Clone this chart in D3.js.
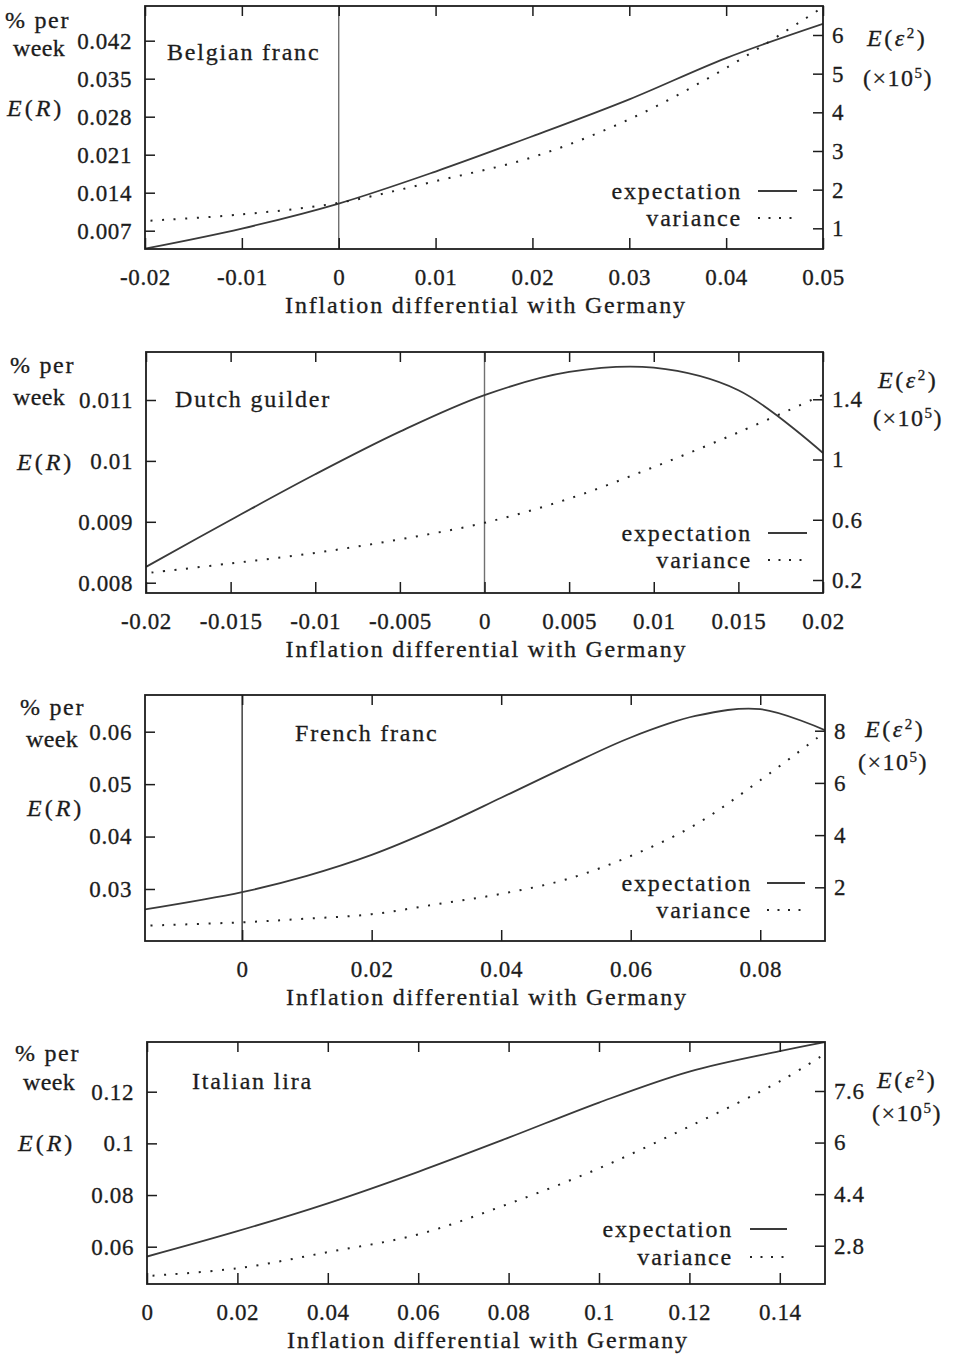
<!DOCTYPE html>
<html>
<head>
<meta charset="utf-8">
<script src="https://cdn.jsdelivr.net/npm/d3@7"></script>
<style>
  html, body { margin: 0; padding: 0; background: #fff; }
  svg text { font-family: "Liberation Serif", "Times New Roman", serif; fill: #1c1c1c; stroke: #1c1c1c; stroke-width: 0.3px; }
</style>
</head>
<body>
<svg id="chart" width="954" height="1354"></svg>
<script>
// ---- Belgian franc ----
const belgianX = [-0.02, -0.01, 0, 0.01, 0.02, 0.03, 0.04, 0.05];
const belgianExpectation = [0.0037, 0.0074, 0.0120, 0.0179, 0.0244, 0.0312, 0.0388, 0.0451];
const belgianVariance = [1.19, 1.36, 1.66, 2.22, 2.84, 3.82, 5.15, 6.72];
const belgianXDomain = [-0.02, 0.05];
const belgianLeftDomain = [0.00363, 0.04839];
const belgianRightDomain = [0.465, 6.75];
const belgianXTicks = [-0.02, -0.01, 0, 0.01, 0.02, 0.03, 0.04, 0.05];
const belgianXLabels = ["-0.02", "-0.01", "0", "0.01", "0.02", "0.03", "0.04", "0.05"];
const belgianLeftTicks = [0.007, 0.014, 0.021, 0.028, 0.035, 0.042];
const belgianLeftLabels = ["0.007", "0.014", "0.021", "0.028", "0.035", "0.042"];
const belgianRightTicks = [1, 2, 3, 4, 5, 6];
const belgianRightLabels = ["1", "2", "3", "4", "5", "6"];

// ---- Dutch guilder ----
const dutchX = [-0.02, -0.015, -0.01, -0.005, 0, 0.005, 0.01, 0.015, 0.02];
const dutchExpectation = [0.00826, 0.00903, 0.00978, 0.01048, 0.01108, 0.01146, 0.01153, 0.01116, 0.01013];
const dutchVariance = [0.245, 0.31, 0.38, 0.47, 0.58, 0.74, 0.95, 1.18, 1.43];
const dutchXDomain = [-0.02, 0.02];
const dutchLeftDomain = [0.007831, 0.011788];
const dutchRightDomain = [0.1137, 1.714];
const dutchXTicks = [-0.02, -0.015, -0.01, -0.005, 0, 0.005, 0.01, 0.015, 0.02];
const dutchXLabels = ["-0.02", "-0.015", "-0.01", "-0.005", "0", "0.005", "0.01", "0.015", "0.02"];
const dutchLeftTicks = [0.008, 0.009, 0.01, 0.011];
const dutchLeftLabels = ["0.008", "0.009", "0.01", "0.011"];
const dutchRightTicks = [0.2, 0.6, 1, 1.4];
const dutchRightLabels = ["0.2", "0.6", "1", "1.4"];

// ---- French franc ----
const frenchX = [-0.015, 0, 0.01, 0.02, 0.03, 0.04, 0.05, 0.06, 0.07, 0.08, 0.09];
const frenchExpectation = [0.0261, 0.0294, 0.0325, 0.0365, 0.0416, 0.0474, 0.0533, 0.0589, 0.0630, 0.0643, 0.0603];
const frenchVariance = [0.53, 0.66, 0.80, 0.97, 1.35, 1.75, 2.30, 3.20, 4.40, 6.10, 7.95];
const frenchXDomain = [-0.015, 0.09];
const frenchLeftDomain = [0.02008, 0.067];
const frenchRightDomain = [-0.057, 9.368];
const frenchXTicks = [0, 0.02, 0.04, 0.06, 0.08];
const frenchXLabels = ["0", "0.02", "0.04", "0.06", "0.08"];
const frenchLeftTicks = [0.03, 0.04, 0.05, 0.06];
const frenchLeftLabels = ["0.03", "0.04", "0.05", "0.06"];
const frenchRightTicks = [2, 4, 6, 8];
const frenchRightLabels = ["2", "4", "6", "8"];

// ---- Italian lira ----
const italianX = [0, 0.02, 0.04, 0.06, 0.08, 0.1, 0.12, 0.14, 0.15];
const italianExpectation = [0.0562, 0.0660, 0.0768, 0.0890, 0.1022, 0.1158, 0.1278, 0.1357, 0.1392];
const italianVariance = [1.86, 2.10, 2.60, 3.15, 4.10, 5.20, 6.50, 7.90, 8.75];
const italianXDomain = [0, 0.15];
const italianLeftDomain = [0.04556, 0.13924];
const italianRightDomain = [1.612, 9.12];
const italianXTicks = [0, 0.02, 0.04, 0.06, 0.08, 0.1, 0.12, 0.14];
const italianXLabels = ["0", "0.02", "0.04", "0.06", "0.08", "0.1", "0.12", "0.14"];
const italianLeftTicks = [0.06, 0.08, 0.1, 0.12];
const italianLeftLabels = ["0.06", "0.08", "0.1", "0.12"];
const italianRightTicks = [2.8, 4.4, 6, 7.6];
const italianRightLabels = ["2.8", "4.4", "6", "7.6"];

const legendLabels = ["expectation", "variance"];
const xTitle = "Inflation differential with Germany";

// Panel definitions: data references plus the page layout of each plot box.
const panels = [
  {
    title: "Belgian franc", x: belgianX, exp: belgianExpectation, vari: belgianVariance,
    xDomain: belgianXDomain, leftDomain: belgianLeftDomain, rightDomain: belgianRightDomain,
    xTicks: belgianXTicks, xLabels: belgianXLabels, leftTicks: belgianLeftTicks, leftLabels: belgianLeftLabels,
    rightTicks: belgianRightTicks, rightLabels: belgianRightLabels, zeroLine: "#707070",
    box: { l: 145, r: 823, t: 6, b: 249 },
    titlePos: [167, 52],
    leftText: { per: [5, 20], week: [13, 48], er: [7, 108] },
    rightText: { e: [867, 38], scale: [863, 78] },
    legend: { textEnd: 742, lineX: [758, 797], rows: [191, 218] }
  },
  {
    title: "Dutch guilder", x: dutchX, exp: dutchExpectation, vari: dutchVariance,
    xDomain: dutchXDomain, leftDomain: dutchLeftDomain, rightDomain: dutchRightDomain,
    xTicks: dutchXTicks, xLabels: dutchXLabels, leftTicks: dutchLeftTicks, leftLabels: dutchLeftLabels,
    rightTicks: dutchRightTicks, rightLabels: dutchRightLabels, zeroLine: "#707070",
    box: { l: 146, r: 823, t: 352, b: 593 },
    titlePos: [175, 399],
    leftText: { per: [10, 365], week: [13, 397], er: [17, 462] },
    rightText: { e: [878, 380], scale: [873, 418] },
    legend: { textEnd: 752, lineX: [768, 807], rows: [533, 560] }
  },
  {
    title: "French franc", x: frenchX, exp: frenchExpectation, vari: frenchVariance,
    xDomain: frenchXDomain, leftDomain: frenchLeftDomain, rightDomain: frenchRightDomain,
    xTicks: frenchXTicks, xLabels: frenchXLabels, leftTicks: frenchLeftTicks, leftLabels: frenchLeftLabels,
    rightTicks: frenchRightTicks, rightLabels: frenchRightLabels, zeroLine: "#333",
    box: { l: 145, r: 825, t: 695, b: 941 },
    titlePos: [295, 733],
    leftText: { per: [20, 707], week: [26, 739], er: [27, 808] },
    rightText: { e: [865, 729], scale: [858, 762] },
    legend: { textEnd: 752, lineX: [767, 805], rows: [883, 910] }
  },
  {
    title: "Italian lira", x: italianX, exp: italianExpectation, vari: italianVariance,
    xDomain: italianXDomain, leftDomain: italianLeftDomain, rightDomain: italianRightDomain,
    xTicks: italianXTicks, xLabels: italianXLabels, leftTicks: italianLeftTicks, leftLabels: italianLeftLabels,
    rightTicks: italianRightTicks, rightLabels: italianRightLabels, zeroLine: null,
    box: { l: 147, r: 825, t: 1042, b: 1284 },
    titlePos: [192, 1081],
    leftText: { per: [15, 1053], week: [23, 1082], er: [18, 1143] },
    rightText: { e: [877, 1080], scale: [872, 1113] },
    legend: { textEnd: 733, lineX: [750, 787], rows: [1229, 1257] }
  }
];

const svg = d3.select("#chart");
const FS = 24;           // word text size
const NUM_FS = 23;       // tick label size
const WORD_LS = "1.8px"; // tracking for words
const NUM_LS = "0.6px";  // tracking for numbers
const INK = "#1c1c1c";
const CURVE = "#3a3a3a";

function styleAxis(g) {
  g.select(".domain").remove();
  g.selectAll(".tick line").attr("stroke", INK).attr("stroke-width", 1.5);
  g.selectAll(".tick text")
    .attr("font-size", NUM_FS)
    .attr("letter-spacing", NUM_LS)
    .attr("fill", INK)
    .style("font-family", '"Liberation Serif", serif');
}

function addER(g, x, y) {
  const t = g.append("text").attr("x", x).attr("y", y).attr("dy", "0.35em")
    .attr("font-size", FS).attr("letter-spacing", "3px");
  t.append("tspan").attr("font-style", "italic").text("E");
  t.append("tspan").text("(");
  t.append("tspan").attr("font-style", "italic").text("R");
  t.append("tspan").text(")");
}

function addEeps(g, x, y) {
  const t = g.append("text").attr("x", x).attr("y", y).attr("dy", "0.35em")
    .attr("font-size", FS).attr("letter-spacing", "2.5px");
  t.append("tspan").attr("font-style", "italic").text("E");
  t.append("tspan").text("(");
  t.append("tspan").attr("font-style", "italic").text("ε");
  t.append("tspan").attr("font-size", 15).attr("dy", -8).text("2");
  t.append("tspan").attr("dy", 8).text(")");
}

function addScale(g, x, y) {
  const t = g.append("text").attr("x", x).attr("y", y).attr("dy", "0.35em")
    .attr("font-size", FS).attr("letter-spacing", "1.5px");
  t.append("tspan").text("(×10");
  t.append("tspan").attr("font-size", 15).attr("dy", -8).text("5");
  t.append("tspan").attr("dy", 8).text(")");
}

panels.forEach((p, i) => {
  const { l, r, t, b } = p.box;
  const g = svg.append("g");

  const x = d3.scaleLinear().domain(p.xDomain).range([l, r]);
  const yL = d3.scaleLinear().domain(p.leftDomain).range([b, t]);
  const yR = d3.scaleLinear().domain(p.rightDomain).range([b, t]);

  const clipId = "clip" + i;
  svg.append("clipPath").attr("id", clipId)
    .append("rect").attr("x", l).attr("y", t).attr("width", r - l).attr("height", b - t);

  // zero reference line
  if (p.zeroLine) {
    g.append("line")
      .attr("x1", x(0)).attr("x2", x(0)).attr("y1", t).attr("y2", b)
      .attr("stroke", p.zeroLine).attr("stroke-width", 1.4);
  }

  // curves
  const expLine = d3.line()
    .x((d, k) => x(p.x[k])).y(d => yL(d))
    .curve(d3.curveCatmullRom.alpha(0.5));
  const varLine = d3.line()
    .x((d, k) => x(p.x[k])).y(d => yR(d))
    .curve(d3.curveCatmullRom.alpha(0.5));

  const curves = g.append("g").attr("clip-path", `url(#${clipId})`);
  curves.append("path").datum(p.exp).attr("d", expLine)
    .attr("fill", "none").attr("stroke", CURVE).attr("stroke-width", 1.8);
  curves.append("path").datum(p.vari).attr("d", varLine)
    .attr("fill", "none").attr("stroke", "#222").attr("stroke-width", 2)
    .attr("stroke-dasharray", "2 9.6").attr("stroke-dashoffset", 6);

  // axes with inward ticks
  g.append("g").attr("transform", `translate(${l},0)`)
    .call(d3.axisLeft(yL).tickValues(p.leftTicks).tickSize(-10).tickPadding(13)
      .tickFormat((d, k) => p.leftLabels[k]))
    .call(styleAxis);
  g.append("g").attr("transform", `translate(${r},0)`)
    .call(d3.axisRight(yR).tickValues(p.rightTicks).tickSize(-10).tickPadding(9)
      .tickFormat((d, k) => p.rightLabels[k]))
    .call(styleAxis);
  const bottom = g.append("g").attr("transform", `translate(0,${b})`)
    .call(d3.axisBottom(x).tickValues(p.xTicks).tickSize(-11).tickPadding(0)
      .tickFormat((d, k) => p.xLabels[k]))
    .call(styleAxis);
  bottom.selectAll(".tick text").attr("y", 28).attr("dy", "0.35em");
  g.append("g").attr("transform", `translate(0,${t})`)
    .call(d3.axisTop(x).tickValues(p.xTicks).tickSize(-10).tickFormat(""))
    .call(styleAxis);

  // frame
  g.append("rect").attr("x", l).attr("y", t).attr("width", r - l).attr("height", b - t)
    .attr("fill", "none").attr("stroke", INK).attr("stroke-width", 1.8);

  // currency title
  g.append("text").attr("x", p.titlePos[0]).attr("y", p.titlePos[1]).attr("dy", "0.35em")
    .attr("font-size", FS).attr("letter-spacing", WORD_LS).text(p.title);

  // x-axis title
  g.append("text").attr("x", (l + r) / 2 + 2).attr("y", b + 56).attr("dy", "0.35em")
    .attr("text-anchor", "middle").attr("font-size", FS).attr("letter-spacing", WORD_LS)
    .text(xTitle);

  // left axis caption
  g.append("text").attr("x", p.leftText.per[0]).attr("y", p.leftText.per[1]).attr("dy", "0.35em")
    .attr("font-size", FS).attr("letter-spacing", "1.7px").text("% per");
  g.append("text").attr("x", p.leftText.week[0]).attr("y", p.leftText.week[1]).attr("dy", "0.35em")
    .attr("font-size", FS).attr("letter-spacing", "0.4px").text("week");
  addER(g, p.leftText.er[0], p.leftText.er[1]);

  // right axis caption
  addEeps(g, p.rightText.e[0], p.rightText.e[1]);
  addScale(g, p.rightText.scale[0], p.rightText.scale[1]);

  // legend
  const lg = p.legend;
  legendLabels.forEach((name, k) => {
    g.append("text").attr("x", lg.textEnd).attr("y", lg.rows[k]).attr("dy", "0.35em")
      .attr("text-anchor", "end").attr("font-size", FS).attr("letter-spacing", WORD_LS)
      .text(name);
    const sample = g.append("line")
      .attr("x1", lg.lineX[0]).attr("x2", lg.lineX[1])
      .attr("y1", lg.rows[k]).attr("y2", lg.rows[k]);
    if (k === 0) {
      sample.attr("stroke", CURVE).attr("stroke-width", 1.8);
    } else {
      sample.attr("stroke", "#222").attr("stroke-width", 2).attr("stroke-dasharray", "2 8.5");
    }
  });
});
</script>
</body>
</html>
